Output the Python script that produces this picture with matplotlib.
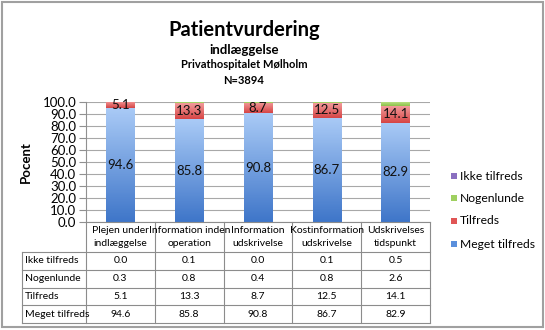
import numpy as np
import matplotlib
matplotlib.use("Agg")
import matplotlib.pyplot as plt
from matplotlib.colors import LinearSegmentedColormap
from matplotlib.patches import Rectangle
from matplotlib.lines import Line2D

plt.rcParams["font.family"] = ["Lato", "DejaVu Sans"]

categories = ["Plejen under\nindlæggelse", "Information inden\noperation",
              "Information\nudskrivelse", "Kostinformation\nudskrivelse",
              "Udskrivelses\ntidspunkt"]
series = ["Ikke tilfreds", "Nogenlunde", "Tilfreds", "Meget tilfreds"]
ikke_tilfreds = [0.0, 0.1, 0.0, 0.1, 0.5]
nogenlunde = [0.3, 0.8, 0.4, 0.8, 2.6]
tilfreds = [5.1, 13.3, 8.7, 12.5, 14.1]
meget_tilfreds = [94.6, 85.8, 90.8, 86.7, 82.9]
values = {"Ikke tilfreds": ikke_tilfreds, "Nogenlunde": nogenlunde,
          "Tilfreds": tilfreds, "Meget tilfreds": meget_tilfreds}

# top/bottom colours of each segment gradient
grad = {"Meget tilfreds": ("#a9caf6", "#3f76c9"),
        "Tilfreds": ("#f29a9a", "#d64545"),
        "Nogenlunde": ("#b6de80", "#8cc24a"),
        "Ikke tilfreds": ("#a895d0", "#7a62aa")}
legend_col = {"Ikke tilfreds": "#8a6fc0", "Nogenlunde": "#9fd060",
              "Tilfreds": "#e05555", "Meget tilfreds": "#5a8fdc"}
labelled = ["Tilfreds", "Meget tilfreds"]

W, H = 545, 330
fig = plt.figure(figsize=(W / 100, H / 100), dpi=100)


def fx(x):
    return x / W


def fy(y):
    return 1 - y / H


# plot area in pixels
L, R, T, B = 86, 430, 102, 222
ax = fig.add_axes([fx(L), fy(B), fx(R) - fx(L), fy(T) - fy(B)])

x = np.arange(len(categories))
bottom = np.zeros(len(categories))
stack = ["Meget tilfreds", "Tilfreds", "Nogenlunde", "Ikke tilfreds"]
for name in stack:
    vals = np.array(values[name])
    bars = ax.bar(x, vals, 0.41, bottom=bottom, color="none", zorder=3)
    cmap = LinearSegmentedColormap.from_list(name, [grad[name][1], grad[name][0]])
    for b in bars:
        bx, by = b.get_x(), b.get_y()
        bw, bh = b.get_width(), b.get_height()
        if bh <= 0:
            continue
        img = ax.imshow(np.linspace(0, 1, 64).reshape(-1, 1), cmap=cmap,
                        origin="lower", aspect="auto",
                        extent=(bx, bx + bw, by, by + bh), zorder=3)
        img.set_clip_path(b)
    if name in labelled:
        for xi, v, b0 in zip(x, vals, bottom):
            ax.text(xi, b0 + v / 2, f"{v:.1f}", ha="center", va="center",
                    fontsize=9.5, color="#111111", zorder=5)
    bottom += vals

ax.set_xlim(-0.5, len(categories) - 0.5)
ax.set_ylim(0, 100)
ax.set_yticks(np.arange(0, 101, 10))
ax.set_yticklabels([f"{t:.1f}" for t in np.arange(0, 101, 10)], fontsize=9.5)
ax.set_xticks([])
ax.yaxis.grid(True, color="#a8a8a8", linewidth=0.8, zorder=0)
ax.set_axisbelow(True)
for s in ["top", "right", "bottom"]:
    ax.spines[s].set_visible(False)
ax.spines["left"].set_color("#909090")
ax.tick_params(axis="y", length=5, color="#909090", pad=2)
ax.set_ylabel("Pocent", fontsize=9.5, fontweight="bold", labelpad=8)

# titles
fig.text(fx(244), fy(30), "Patientvurdering", ha="center", va="center",
         fontsize=14.5, fontweight="bold")
fig.text(fx(244), fy(50), "indlæggelse", ha="center", va="center",
         fontsize=9.5, fontweight="bold")
fig.text(fx(244), fy(65), "Privathospitalet Mølholm", ha="center", va="center",
         fontsize=8, fontweight="bold")
fig.text(fx(244), fy(80), "N=3894", ha="center", va="center",
         fontsize=8, fontweight="bold")

# data table under the bars
line_kw = dict(color="#8c8c8c", linewidth=0.8)
col_w = (R - L) / len(categories)
head_b = 252
row_h = (323 - head_b) / len(series)
tl = 22
fig.add_artist(Line2D([fx(L), fx(R)], [fy(B), fy(B)], **line_kw))
for i in range(len(categories) + 1):
    xx = L + i * col_w
    fig.add_artist(Line2D([fx(xx), fx(xx)], [fy(B), fy(323)], **line_kw))
fig.add_artist(Line2D([fx(tl), fx(tl)], [fy(head_b), fy(323)], **line_kw))
for j in range(len(series) + 1):
    yy = head_b + j * row_h
    fig.add_artist(Line2D([fx(tl), fx(R)], [fy(yy), fy(yy)], **line_kw))
for i, c in enumerate(categories):
    fig.text(fx(L + (i + 0.5) * col_w), fy((B + head_b) / 2), c, ha="center",
             va="center", fontsize=7.5, linespacing=1.45)
for j, name in enumerate(series):
    yc = fy(head_b + (j + 0.5) * row_h)
    fig.text(fx(tl + 3), yc, name, ha="left", va="center", fontsize=7.5)
    for i, v in enumerate(values[name]):
        fig.text(fx(L + (i + 0.5) * col_w), yc, f"{v:.1f}", ha="center",
                 va="center", fontsize=7.5)

# legend
leg_y = [176, 198, 221, 244]
for name, yy in zip(series, leg_y):
    fig.add_artist(Rectangle((fx(451), fy(yy + 3)), fx(6), 6 / H,
                             facecolor=legend_col[name], edgecolor="none"))
    fig.text(fx(460), fy(yy), name, ha="left", va="center", fontsize=8.7)

# outer frame
fig.add_artist(Rectangle((fx(2), fy(327)), fx(541), 325 / H, fill=False,
                         edgecolor="#a0a0a0", linewidth=1.5))

fig.savefig("out.png", dpi=100)
